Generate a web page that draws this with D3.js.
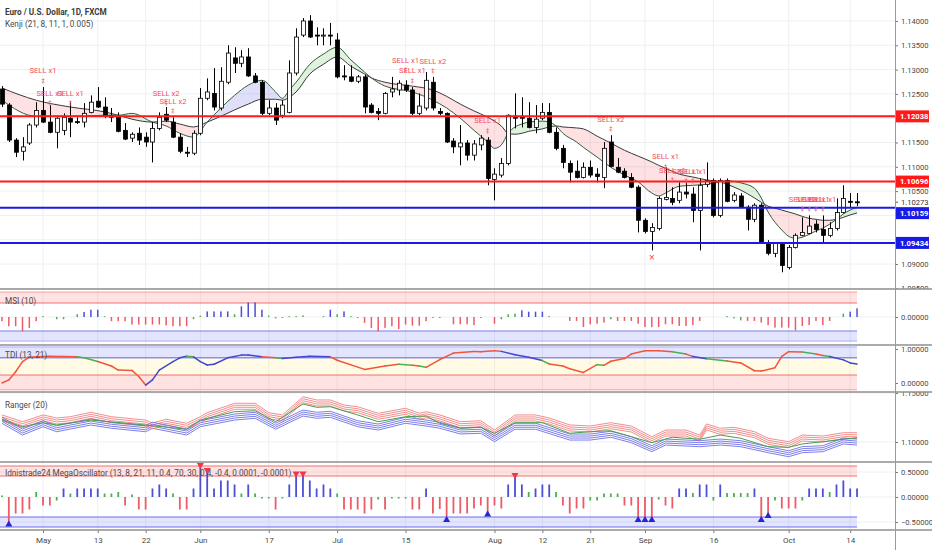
<!DOCTYPE html>
<html>
<head>
<meta charset="utf-8">
<script src="https://cdn.jsdelivr.net/npm/d3@7"></script>
<style>
body { margin: 0; background: #fff; }
svg { display: block; font-family: Roboto, "Liberation Sans", sans-serif; }
</style>
</head>
<body>
<div class="chart"></div>
<script>
// ---- EUR/USD daily candles (Apr 23 .. Oct 15) ----
var opens = [1.1260,1.1227,1.1155,1.1132,1.1149,1.1186,1.1216,1.1192,1.1171,1.1175,
	1.1200,1.1193,1.1192,1.1212,1.1235,1.1223,1.1206,1.1202,1.1175,1.1159,
	1.1169,1.1161,1.1151,1.1179,1.1208,1.1192,1.1161,1.1130,1.1128,1.1169,
	1.1241,1.1251,1.1221,1.1274,1.1324,1.1313,1.1326,1.1287,1.1274,1.1210,
	1.1221,1.1206,1.1212,1.1293,1.1371,1.1400,1.1371,1.1369,1.1371,1.1361,
	1.1287,1.1285,1.1276,1.1285,1.1227,1.1214,1.1210,1.1254,1.1258,1.1268,
	1.1258,1.1210,1.1221,1.1274,1.1214,1.1210,1.1153,1.1141,1.1149,1.1124,
	1.1145,1.1155,1.1074,1.1083,1.1107,1.1204,1.1202,1.1200,1.1181,1.1200,
	1.1212,1.1171,1.1138,1.1107,1.1091,1.1078,1.1099,1.1085,1.1078,1.1151,
	1.1099,1.1091,1.1078,1.1058,1.0990,1.0967,1.0973,1.1033,1.1035,1.1031,
	1.1048,1.1044,1.1010,1.1064,1.1072,1.1000,1.1072,1.1031,1.1040,1.1017,
	1.0992,1.1021,1.0943,1.0922,1.0943,1.0893,1.0934,1.0959,1.0963,1.0982,
	1.0971,1.0959,1.0973,1.1006,1.1029,1.1028];
var highs = [1.1266,1.1231,1.1159,1.1161,1.1190,1.1233,1.1264,1.1227,1.1202,1.1210,
	1.1233,1.1202,1.1231,1.1247,1.1264,1.1243,1.1221,1.1212,1.1190,1.1171,
	1.1181,1.1171,1.1192,1.1212,1.1223,1.1202,1.1169,1.1141,1.1175,1.1262,
	1.1282,1.1303,1.1305,1.1350,1.1346,1.1340,1.1344,1.1293,1.1278,1.1237,
	1.1231,1.1237,1.1319,1.1385,1.1406,1.1412,1.1387,1.1385,1.1396,1.1375,
	1.1309,1.1309,1.1289,1.1289,1.1231,1.1221,1.1254,1.1285,1.1278,1.1278,
	1.1264,1.1251,1.1295,1.1285,1.1221,1.1212,1.1159,1.1186,1.1155,1.1155,
	1.1165,1.1161,1.1097,1.1118,1.1208,1.1251,1.1243,1.1233,1.1227,1.1231,
	1.1231,1.1181,1.1145,1.1113,1.1113,1.1109,1.1113,1.1097,1.1151,1.1165,
	1.1118,1.1097,1.1087,1.1062,1.0994,1.0984,1.1039,1.1099,1.1058,1.1068,
	1.1068,1.1058,1.1076,1.1109,1.1076,1.1076,1.1076,1.1048,1.1046,1.1021,
	1.1025,1.1025,1.0949,1.0945,1.0945,1.0939,1.0963,1.0996,1.1000,1.0990,
	1.1000,1.0986,1.1035,1.1062,1.1046,1.1046];
var lows = [1.1223,1.1151,1.1120,1.1113,1.1145,1.1181,1.1190,1.1169,1.1138,1.1165,
	1.1161,1.1188,1.1181,1.1210,1.1221,1.1200,1.1192,1.1171,1.1155,1.1151,
	1.1145,1.1141,1.1109,1.1175,1.1192,1.1159,1.1128,1.1120,1.1124,1.1165,
	1.1237,1.1216,1.1216,1.1270,1.1293,1.1305,1.1285,1.1272,1.1206,1.1206,
	1.1186,1.1200,1.1210,1.1288,1.1367,1.1365,1.1350,1.1350,1.1350,1.1282,
	1.1278,1.1274,1.1272,1.1210,1.1210,1.1196,1.1208,1.1243,1.1247,1.1254,
	1.1206,1.1206,1.1216,1.1216,1.1206,1.1149,1.1128,1.1103,1.1113,1.1113,
	1.1134,1.1062,1.1031,1.1078,1.1103,1.1179,1.1181,1.1179,1.1169,1.1196,
	1.1169,1.1134,1.1097,1.1068,1.1076,1.1076,1.1078,1.1068,1.1056,1.1099,
	1.1087,1.1076,1.1056,1.0965,1.0963,1.0928,1.0969,1.1031,1.1021,1.1025,
	1.1035,1.0986,1.0928,1.1058,1.0996,1.0996,1.1027,1.1027,1.1015,1.0969,
	1.0986,1.0943,1.0918,1.0914,1.0883,1.0889,1.0932,1.0957,1.0961,1.0965,
	1.0945,1.0955,1.0969,1.1004,1.1017,1.1019];
var closes = [1.1229,1.1155,1.1130,1.1141,1.1186,1.1216,1.1192,1.1171,1.1200,1.1202,
	1.1192,1.1192,1.1210,1.1233,1.1223,1.1204,1.1202,1.1173,1.1157,1.1167,
	1.1155,1.1151,1.1179,1.1202,1.1196,1.1161,1.1132,1.1128,1.1169,1.1241,
	1.1254,1.1223,1.1276,1.1334,1.1313,1.1326,1.1287,1.1274,1.1210,1.1221,
	1.1196,1.1227,1.1293,1.1367,1.1400,1.1367,1.1369,1.1371,1.1369,1.1285,
	1.1285,1.1276,1.1285,1.1223,1.1212,1.1210,1.1251,1.1260,1.1272,1.1258,
	1.1210,1.1225,1.1278,1.1221,1.1210,1.1151,1.1141,1.1149,1.1124,1.1147,
	1.1159,1.1076,1.1085,1.1107,1.1206,1.1200,1.1201,1.1181,1.1198,1.1212,
	1.1171,1.1138,1.1109,1.1089,1.1078,1.1099,1.1083,1.1080,1.1138,1.1101,
	1.1089,1.1078,1.1058,1.0990,1.0967,1.0975,1.1035,1.1037,1.1027,1.1048,
	1.1044,1.1010,1.1062,1.1072,1.1000,1.1072,1.1029,1.1042,1.1017,1.0992,
	1.1021,1.0945,1.0922,1.0943,1.0897,1.0934,1.0959,1.0965,1.0978,1.0971,
	1.0959,1.0973,1.1006,1.1035,1.1027,1.10273];

// x axis labels (bar index -> text)
var xTickIdx = [6,14,21,29,39,49,59,72,79,86,94,104,115,124];
var xTickText = ['May','13','22','Jun','17','Jul','15','Aug','12','21','Sep','16','Oct','14'];

// Kenji cloud, read at these bars
var kenjiIdx = [0,5,10,15,17,19,22,24,26,28,30,32,34,36,38,40,41,42,43,45,47,49,51,53,54,56,60,63,65,67,
	69,71,72,73,74,75,76,77,79,80,81,82,84,85,87,89,91,93,95,96,97,99,101,103,105,106,108,110,111,112,
	113,114,115,116,117,118,119,120,121,122,123,124,125];
var kenjiFast = [1.1237,1.1204,1.1204,1.1206,1.1206,1.1210,1.1192,1.1184,1.1169,1.1161,
	1.1192,1.1221,1.1247,1.1268,1.1278,1.1254,1.1241,1.1258,1.1274,1.1311,
	1.1332,1.1346,1.1320,1.1295,1.1283,1.1266,1.1254,1.1237,1.1221,1.1200,
	1.1175,1.1151,1.1138,1.1145,1.1169,1.1182,1.1188,1.1192,1.1194,1.1192,
	1.1184,1.1169,1.1151,1.1140,1.1120,1.1099,1.1083,1.1069,1.1046,1.1040,
	1.1046,1.1060,1.1062,1.1064,1.1069,1.1071,1.1067,1.1056,1.1036,1.1007,
	1.0986,1.0970,1.0957,1.0953,1.0955,1.0961,1.0968,1.0974,1.0982,1.0992,
	1.1003,1.1011,1.1017];
var kenjiSlow = [1.1262,1.1237,1.1223,1.1213,1.1206,1.1198,1.1192,1.1194,1.1188,1.1182,
	1.1192,1.1204,1.1217,1.1229,1.1239,1.1239,1.1237,1.1243,1.1254,1.1291,
	1.1311,1.1326,1.1307,1.1291,1.1283,1.1274,1.1266,1.1258,1.1245,1.1229,
	1.1215,1.1202,1.1194,1.1184,1.1169,1.1167,1.1169,1.1173,1.1178,1.1182,
	1.1184,1.1182,1.1180,1.1178,1.1163,1.1149,1.1134,1.1122,1.1110,1.1103,
	1.1097,1.1085,1.1079,1.1073,1.1069,1.1064,1.1052,1.1036,1.1027,1.1019,
	1.1015,1.1011,1.1007,1.1003,1.0998,1.0994,1.0992,1.0990,1.0990,1.0992,
	1.0996,1.1001,1.1005];
var kenjiZoneFrom = [0, 17, 22, 30, 41.5, 54, 74, 81, 105, 111.5, 122];
var kenjiZoneTo   = [17, 22, 30, 41.5, 54, 74, 81, 105, 111.5, 122, 125];
var kenjiZoneKind = ['down','up','down','up2','up','down','up','down','up','down','up'];

// horizontal levels
var levelPrices = [1.12038, 1.10696, 1.10159, 1.09434];
var levelKind = ['res', 'res', 'sup', 'sup'];

// SELL signals
var sellIdx = [6,7,10,24,25,59,60,63,71,89,97,98,100,101,117,118,119,120];
var sellText = ['SELL x1','SELL x1','SELL x1','SELL x2','SELL x2','SELL x1','SELL x1','SELL x2','SELL x1',
	'SELL x2','SELL x1','SELL x1','SELL x1','SELL x1','SELL x1','SELL x1','SELL x1','SELL x1'];
var sellPrice = [1.1278,1.1231,1.1231,1.1231,1.1215,1.1299,1.1278,1.1297,1.1175,1.1178,
	1.1101,1.1073,1.1071,1.1071,1.1013,1.1013,1.1013,1.1013];
var exitIdx = [95];
var exitPrice = [1.0914];

// MSI (10)
var msi = [-0.15,-0.33,-0.33,-0.51,-0.39,-0.15,0.03,0,-0.08,-0.08,
	0,0.1,0.18,0.26,0.26,0.03,-0.15,-0.15,-0.15,-0.27,
	-0.27,-0.27,-0.27,-0.27,-0.3,-0.33,-0.33,-0.33,-0.08,0.05,
	0.2,0.2,0.2,0.2,0.1,0.38,0.52,0.52,0.26,0.05,
	-0.05,-0.03,0.03,0.03,0.06,0,0,0.03,0.26,0.1,
	0.2,0.03,-0.03,-0.21,-0.39,-0.51,-0.39,-0.33,-0.43,-0.27,
	-0.31,-0.31,-0.15,-0.03,-0.03,0,-0.26,-0.26,-0.26,-0.29,
	-0.03,0,-0.24,-0.08,0.1,0.12,0.24,0.19,0.19,0.19,
	0.03,0,0,-0.14,-0.14,-0.36,-0.26,-0.24,-0.2,-0.08,
	-0.14,-0.14,-0.14,-0.24,-0.36,-0.36,-0.36,-0.26,-0.26,-0.32,
	-0.32,-0.29,-0.14,0,0,0,0.03,-0.05,-0.12,-0.14,
	-0.14,-0.2,-0.29,-0.38,-0.38,-0.38,-0.48,-0.32,-0.29,-0.14,
	-0.29,-0.14,0,0.12,0.19,0.31];
var msiZones = [0.5, 0.89, -0.86, -0.5];

// TDI (13, 21)
var tdiIdx = [0,1,2,3,4,5,7,9,11,12,14,16,17,19,20,21,22,23,25,26,
	27,28,29,30,31,33,35,36,38,40,41,43,45,48,49,53,56,58,60,61,
	62,64,66,69,70,72,73,75,77,79,80,82,83,85,87,88,89,91,92,94,
	96,98,100,101,103,106,108,110,111,113,114,115,117,119,120,121,123,124,125];
var tdiVal = [0.00,0.09,0.33,0.63,0.76,0.77,0.79,0.78,0.77,0.74,
	0.63,0.50,0.38,0.37,0.19,-0.06,0.09,0.38,0.63,0.74,
	0.79,0.77,0.63,0.53,0.55,0.74,0.82,0.82,0.77,0.74,
	0.72,0.76,0.79,0.77,0.67,0.40,0.50,0.55,0.52,0.50,
	0.46,0.69,0.88,0.93,0.92,0.95,0.93,0.83,0.76,0.66,
	0.56,0.50,0.42,0.31,0.54,0.52,0.64,0.72,0.85,0.95,
	0.95,0.92,0.85,0.78,0.71,0.65,0.59,0.36,0.35,0.45,
	0.78,0.92,0.91,0.85,0.81,0.78,0.68,0.59,0.56];
var tdiState = ('rrrrrrrrgg' + 'rrrrrbbbbb' + 'gbbbbbbbrg' + 'bbbrrrrgrg' + 'rrrrrrbbbg' +
	'rrrrgrrrrr' + 'rgrbgrrrrr' + 'rrgrgbbbb').split('');
var tdiZones = [0.74, 1.06, 0.235, 0.74, -0.2, 0.235];

// Ranger (20)
var rngUpIdx = [0,3,6,8,10,13,16,21,22,24,27,29,30,34,37,39,41,44,46,48,50,52,55,59,61,62,64,67,70,72,
	75,78,80,83,86,89,92,95,97,100,102,103,105,107,110,112,115,117,120,123,125];
var rngUp = [1.1276,1.1207,1.1276,1.1245,1.1258,1.1303,1.1258,1.1224,1.1194,1.1232,
	1.1191,1.1258,1.1299,1.1395,1.1395,1.1299,1.1276,1.1462,1.1429,1.1429,
	1.1378,1.1360,1.1293,1.1344,1.1293,1.1309,1.1276,1.1207,1.1217,1.1122,
	1.1276,1.1276,1.1245,1.1174,1.1163,1.1197,1.1163,1.1054,1.1122,1.1122,
	1.1071,1.1184,1.1140,1.1150,1.1105,1.1038,1.1003,1.1071,1.1061,1.1095,1.1095];
var rngMidIdx = [0,3,6,8,13,21,27,29,34,37,40,44,46,48,52,55,59,62,64,67,
	70,72,75,79,83,86,89,92,95,98,102,105,108,112,115,117,120,125];
var rngMid = [1.1224,1.1156,1.1197,1.1173,1.1224,1.1173,1.1130,1.1224,1.1309,1.1319,
	1.1207,1.1388,1.1354,1.1360,1.1276,1.1207,1.1258,1.1265,1.1191,1.1140,
	1.1150,1.1089,1.1197,1.1197,1.1089,1.1105,1.1115,1.1054,1.0993,1.1048,
	1.1028,1.1071,1.1038,1.0952,1.0946,1.0980,1.1003,1.1044];
var rngLowIdx = [0,3,6,8,13,16,21,22,27,29,34,37,40,44,46,48,52,55,59,62,
	64,67,70,72,75,78,83,86,89,92,95,97,100,102,105,108,112,115,117,120,123,125];
var rngLow = [1.1191,1.1071,1.1156,1.1105,1.1173,1.1140,1.1105,1.1140,1.1071,1.1156,
	1.1224,1.1242,1.1130,1.1265,1.1242,1.1252,1.1156,1.1122,1.1191,1.1163,
	1.1140,1.1082,1.1089,1.1003,1.1130,1.1130,1.1020,1.1020,1.1048,1.0993,
	1.0901,1.0969,1.0959,1.0952,1.0969,1.0952,1.0891,1.0850,1.0891,1.0901,1.0980,1.0969];

// MegaOscillator
var mega = [0.03,-0.57,-0.33,-0.33,-0.25,0.1,-0.17,-0.17,-0.07,0.17,
	0.07,0.17,0.17,0.17,0.17,0.07,0.07,0.1,-0.17,0.05,
	-0.25,-0.25,0.17,0.25,0.17,0.07,-0.25,-0.25,0.17,0.6,
	0.5,0.17,0.33,0.33,0.25,0.07,0.25,0.07,-0.03,-0.03,
	-0.25,-0.03,0.25,0.43,0.43,0.33,0.17,0.25,0.17,0.07,
	-0.25,-0.25,-0.25,-0.33,-0.25,-0.05,-0.25,-0.03,-0.03,-0.03,
	-0.25,-0.25,0.17,-0.33,-0.24,-0.48,-0.33,-0.33,-0.33,-0.23,
	-0.17,-0.37,-0.17,-0.23,0.25,0.4,0.25,0.1,0.17,0.25,
	0.25,0.1,-0.17,-0.33,-0.23,-0.23,-0.07,-0.07,0.07,0.07,
	0.07,-0.17,-0.17,-0.48,-0.48,-0.48,-0.05,-0.17,-0.23,0.17,
	0.17,0.08,0.25,0.25,-0.07,0.25,0.08,0.08,0.08,0.08,
	0.17,-0.48,-0.4,-0.07,-0.23,-0.23,-0.23,-0.07,0.17,0.17,
	0.17,0.1,0.25,0.33,0.17,0.17];
var megaSellIdx = [29,30,43,44,75];
var megaBuyIdx = [1,65,71,93,94,95,111,112];
var megaZones = [0.42, 0.62, -0.6, -0.4];

// ---- layout ----
var width = 932, height = 550, axisX = 895;
var paneMain = [0, 289], paneMsi = [289, 345], paneTdi = [345, 392], paneRng = [392, 462], paneMega = [462, 530];

var colRed = '#ff1a1a', colBlue = '#1a1ae6';
var barRed = '#ec5b66', barBlue = '#4b4fd6', barGreen = '#4caf50';
var gridCol = '#eef0f3', textCol = '#4a4a4a';
var fontTxt = 'Roboto, "Liberation Sans", sans-serif';

var svg = d3.select('.chart')
	.append('svg')
	.attr('width', width)
	.attr('height', height);
var defs = svg.append('defs');

function clipRect(id, x0, y0, w, h) {
	defs.append('clipPath').attr('id', id)
		.append('rect').attr('x', x0).attr('y', y0).attr('width', w).attr('height', h);
	return 'url(#' + id + ')';
}

var x = d3.scaleLinear().domain([-0.29, 130.55]).range([0, axisX]);
var lastX = x(opens.length - 1);

var yMain = d3.scaleLinear().domain([1.08486, 1.14432]).range([paneMain[1], paneMain[0]]);
var yMsi = d3.scaleLinear().domain([-1, 1]).range([paneMsi[1], paneMsi[0]]);
var yTdi = d3.scaleLinear().domain([-0.2647, 1.1176]).range([paneTdi[1], paneTdi[0]]);
var yRng = d3.scaleLinear().domain([1.07959, 1.15102]).range([paneRng[1], paneRng[0]]);
var yMega = d3.scaleLinear().domain([-0.66, 0.7]).range([paneMega[1], paneMega[0]]);

// vertical grid
svg.append('g').selectAll('line').data(xTickIdx).enter().append('line')
	.attr('x1', function(d){ return x(d); }).attr('x2', function(d){ return x(d); })
	.attr('y1', 0).attr('y2', paneMega[1])
	.attr('stroke', gridCol);

// horizontal grids per pane
function hGrid(scale, vals) {
	svg.append('g').selectAll('line').data(vals).enter().append('line')
		.attr('x1', 0).attr('x2', axisX)
		.attr('y1', function(d){ return scale(d); }).attr('y2', function(d){ return scale(d); })
		.attr('stroke', gridCol);
}
var mainTicks = d3.range(0, 12).map(function(k){ return +(1.085 + k * 0.005).toFixed(3); });
hGrid(yMain, mainTicks);
hGrid(yMsi, [0]);
hGrid(yRng, [1.10, 1.15]);
hGrid(yMega, [-0.5, 0, 0.5]);

// ---------- main pane ----------
var gMain = svg.append('g').attr('clip-path', clipRect('clipMain', 0, paneMain[0], axisX, paneMain[1] - paneMain[0]));

var kPts = kenjiIdx.map(function(d, k){ return { i: d, f: kenjiFast[k], s: kenjiSlow[k] }; });
var zoneFill = { down: 'rgba(242,80,90,0.17)', up: 'rgba(90,190,90,0.2)', up2: 'rgba(95,95,225,0.2)' };
var kArea = d3.area()
	.x(function(d){ return x(d.i); })
	.y0(function(d){ return yMain(d.f); })
	.y1(function(d){ return yMain(d.s); })
	.curve(d3.curveMonotoneX);
kenjiZoneFrom.forEach(function(z0, k){
	var cp = clipRect('kz' + k, x(z0), 0, x(kenjiZoneTo[k]) - x(z0), paneMain[1]);
	gMain.append('g').attr('clip-path', cp)
		.append('path')
		.attr('d', kArea(kPts))
		.attr('fill', zoneFill[kenjiZoneKind[k]]);
});
var kSlowLine = d3.line().x(function(d){ return x(d.i); }).y(function(d){ return yMain(d.s); }).curve(d3.curveMonotoneX);
var kFastLine = d3.line().x(function(d){ return x(d.i); }).y(function(d){ return yMain(d.f); }).curve(d3.curveMonotoneX);
gMain.append('path').attr('d', kSlowLine(kPts)).attr('fill', 'none').attr('stroke', '#3a3a3a').attr('stroke-width', 1);
gMain.append('path').attr('d', kFastLine(kPts)).attr('fill', 'none').attr('stroke', '#2f5e3a').attr('stroke-width', 1);

// candles
var candles = opens.map(function(o, i){ return { i: i, o: o, h: highs[i], l: lows[i], c: closes[i] }; });
gMain.append('g').selectAll('line').data(candles).enter().append('line')
	.attr('x1', function(d){ return Math.round(x(d.i)) + 0.5; })
	.attr('x2', function(d){ return Math.round(x(d.i)) + 0.5; })
	.attr('y1', function(d){ return yMain(d.h); })
	.attr('y2', function(d){ return yMain(d.l); })
	.attr('stroke', '#000').attr('stroke-width', 1);
gMain.append('g').selectAll('rect').data(candles).enter().append('rect')
	.attr('x', function(d){ return Math.round(x(d.i)) - 1.5; })
	.attr('width', 4)
	.attr('y', function(d){ return yMain(Math.max(d.o, d.c)); })
	.attr('height', function(d){ return Math.max(1, Math.abs(yMain(d.o) - yMain(d.c))); })
	.attr('fill', function(d){ return d.c >= d.o ? '#fff' : '#000'; })
	.attr('stroke', '#000').attr('stroke-width', 0.8);

// support / resistance lines
gMain.append('g').selectAll('line').data(levelPrices).enter().append('line')
	.attr('x1', 0).attr('x2', axisX)
	.attr('y1', function(d){ return yMain(d); }).attr('y2', function(d){ return yMain(d); })
	.attr('stroke', function(d, i){ return levelKind[i] == 'res' ? colRed : colBlue; })
	.attr('stroke-width', 2);

// sell labels
var sells = sellIdx.map(function(d, k){ return { i: d, t: sellText[k], p: sellPrice[k] }; });
var gSell = gMain.append('g').attr('font-family', fontTxt).attr('text-anchor', 'middle').attr('fill', '#f4505c');
gSell.selectAll('.lbl').data(sells).enter().append('text')
	.attr('x', function(d){ return x(d.i); })
	.attr('y', function(d){ return yMain(d.p) - 10; })
	.attr('dy', '0.35em')
	.attr('font-size', 7.6)
	.text(function(d){ return d.t; });
gSell.selectAll('.mk').data(sells).enter().append('text')
	.attr('x', function(d){ return x(d.i); })
	.attr('y', function(d){ return yMain(d.p); })
	.attr('dy', '0.35em')
	.attr('font-size', 6.5)
	.attr('font-family', 'DejaVu Sans')
	.text('\u2021');
gMain.append('g').selectAll('text').data(exitIdx).enter().append('text')
	.attr('x', function(d){ return x(d); })
	.attr('y', function(d, k){ return yMain(exitPrice[k]); })
	.attr('dy', '0.35em').attr('text-anchor', 'middle')
	.attr('font-size', 8).attr('font-family', 'DejaVu Sans').attr('fill', '#f23645')
	.text('\u00d7');

// ---------- band helper ----------
function bands(scale, zones, fills, lineCols, lineVals) {
	var g = svg.append('g');
	for (var k = 0; k < fills.length; k++) {
		var a = scale(zones[2 * k + 1]), b = scale(zones[2 * k]);
		g.append('rect').attr('x', 0).attr('width', lastX)
			.attr('y', a).attr('height', b - a).attr('fill', fills[k]);
	}
	lineVals.forEach(function(v, k){
		g.append('line').attr('x1', 0).attr('x2', lastX)
			.attr('y1', scale(v)).attr('y2', scale(v))
			.attr('stroke', lineCols[k]).attr('stroke-width', 1);
	});
}
var pinkFill = 'rgba(255,90,90,0.17)', blueFill = 'rgba(70,80,255,0.15)', yellowFill = 'rgba(255,236,120,0.2)';

// ---------- MSI ----------
bands(yMsi, msiZones, [pinkFill, blueFill], ['#f3a0a0', '#f07070', '#7a7ee8', '#a9acf0'], [0.89, 0.5, -0.5, -0.86]);
function barColor(v) { return v < -0.13 ? barRed : (v > 0.13 ? barBlue : barGreen); }
svg.append('g').selectAll('rect').data(msi).enter().append('rect')
	.attr('x', function(d, i){ return x(i) - 0.75; })
	.attr('width', 1.5)
	.attr('y', function(d){ return yMsi(Math.max(d, 0)); })
	.attr('height', function(d){ return d == 0 ? 0 : Math.max(1, Math.abs(yMsi(d) - yMsi(0))); })
	.attr('fill', function(d){ return barColor(d); });

// ---------- TDI ----------
bands(yTdi, tdiZones, [blueFill, yellowFill, pinkFill], ['#a9acf0', '#5b5fe0', '#f07070', '#f3a0a0'], [1.06, 0.74, 0.235, -0.2]);
var tdiCol = { r: '#f2553c', g: '#4caf50', b: '#3f48cc' };
var gTdi = svg.append('g');
for (var k = 0; k < tdiIdx.length - 1; k++) {
	gTdi.append('line')
		.attr('x1', x(tdiIdx[k])).attr('y1', yTdi(tdiVal[k]))
		.attr('x2', x(tdiIdx[k + 1])).attr('y2', yTdi(tdiVal[k + 1]))
		.attr('stroke', tdiCol[tdiState[k]]).attr('stroke-width', 1.5).attr('stroke-linecap', 'round');
}

// ---------- Ranger ----------
var gRng = svg.append('g').attr('clip-path', clipRect('clipRng', 0, paneRng[0], axisX, paneRng[1] - paneRng[0]));
function rngLine(idx, vals, off) {
	return d3.line()
		.x(function(d){ return x(d); })
		.y(function(d, k){ return yRng(vals[k]) + off; })(idx);
}
[0, 2, 4, 6].forEach(function(off){
	gRng.append('path').attr('d', rngLine(rngUpIdx, rngUp, off))
		.attr('fill', 'none').attr('stroke', '#f08080').attr('stroke-width', 0.9);
	gRng.append('path').attr('d', rngLine(rngLowIdx, rngLow, -off))
		.attr('fill', 'none').attr('stroke', '#6d6fe6').attr('stroke-width', 0.9);
});
gRng.append('path').attr('d', rngLine(rngMidIdx, rngMid, 0))
	.attr('fill', 'none').attr('stroke', '#43a047').attr('stroke-width', 1);

// ---------- MegaOscillator ----------
bands(yMega, megaZones, [pinkFill, blueFill], ['#f07070', '#f07070', '#6d6fe6', '#6d6fe6'], [0.62, 0.42, -0.4, -0.6]);
svg.append('g').selectAll('rect').data(mega).enter().append('rect')
	.attr('x', function(d, i){ return x(i) - 0.9; })
	.attr('width', 1.8)
	.attr('y', function(d){ return yMega(Math.max(d, 0)); })
	.attr('height', function(d){ return d == 0 ? 0 : Math.max(1, Math.abs(yMega(d) - yMega(0))); })
	.attr('fill', function(d){ return barColor(d); });
var tri = d3.symbol().type(d3.symbolTriangle).size(22);
svg.append('g').selectAll('path').data(megaSellIdx).enter().append('path')
	.attr('d', tri)
	.attr('transform', function(d){ return 'translate(' + x(d) + ',' + (yMega(mega[d]) - 2) + ') rotate(180)'; })
	.attr('fill', '#f23645');
svg.append('g').selectAll('path').data(megaBuyIdx).enter().append('path')
	.attr('d', tri)
	.attr('transform', function(d){ return 'translate(' + x(d) + ',' + (yMega(mega[d]) - 1) + ')'; })
	.attr('fill', '#2626d9');

// ---------- price tags (last price + level boxes, pushed apart) ----------
var lastClose = closes[closes.length - 1];
var tags = levelPrices.map(function(p, k){ return { p: p, kind: levelKind[k], y: yMain(p) }; });
tags.push({ p: lastClose, kind: 'last', y: yMain(lastClose) });
tags.sort(function(a, b){ return a.y - b.y; });
for (var t = 1; t < tags.length; t++) {
	if (tags[t].y < tags[t - 1].y + 11) tags[t].y = tags[t - 1].y + 11;
}

// ---------- right axes ----------
function priceAxis(id, pane, scale, vals) {
	var outer = svg.append('g').attr('clip-path', clipRect(id, axisX, pane[0], width - axisX, pane[1] - pane[0]));
	var ax = outer.append('g').attr('transform', 'translate(' + axisX + ',0)')
		.call(d3.axisRight(scale).tickValues(vals).tickFormat(d3.format('.5f')).tickSize(3).tickPadding(3));
	ax.select('.domain').remove();
	ax.selectAll('line').attr('stroke', '#777');
	ax.selectAll('text').attr('font-size', 7.6).attr('font-family', fontTxt).attr('fill', textCol);
	return outer;
}
// main ticks hidden where a tag sits on top of them
var freeTicks = mainTicks.filter(function(v){
	return tags.every(function(tg){ return Math.abs(yMain(v) - tg.y) > 8; });
});
priceAxis('axMain', paneMain, yMain, freeTicks);
priceAxis('axMsi', paneMsi, yMsi, [0]);
priceAxis('axTdi', paneTdi, yTdi, [0, 1]);
priceAxis('axRng', paneRng, yRng, [1.10, 1.15]);
priceAxis('axMega', paneMega, yMega, [-0.5, 0, 0.5]);

var gTags = svg.append('g').attr('font-family', fontTxt).attr('font-size', 7.6);
tags.forEach(function(d){
	if (d.kind == 'last') {
		gTags.append('line').attr('x1', axisX).attr('x2', axisX + 3).attr('y1', d.y).attr('y2', d.y).attr('stroke', '#555');
		gTags.append('text').attr('x', axisX + 6).attr('y', d.y).attr('dy', '0.35em').attr('fill', '#333').text(d3.format('.5f')(d.p));
	} else {
		var c = d.kind == 'res' ? colRed : colBlue;
		gTags.append('rect').attr('x', axisX).attr('y', d.y - 6).attr('width', 34).attr('height', 12).attr('fill', c);
		gTags.append('text').attr('x', axisX + 5).attr('y', d.y).attr('dy', '0.35em').attr('fill', '#fff')
			.attr('font-weight', 'bold').text(d3.format('.5f')(d.p));
	}
});

// ---------- x axis ----------
var xa = svg.append('g').attr('transform', 'translate(0,' + paneMega[1] + ')')
	.call(d3.axisBottom(x).tickValues(xTickIdx).tickFormat(function(d, i){ return xTickText[i]; }).tickSize(3).tickPadding(4));
xa.select('.domain').remove();
xa.selectAll('line').attr('stroke', '#777');
xa.selectAll('text').attr('font-size', 8).attr('font-family', fontTxt).attr('fill', textCol);

// separators and axis border
svg.append('g').selectAll('line').data([paneMain[1], paneMsi[1], paneTdi[1], paneRng[1], paneMega[1]]).enter().append('line')
	.attr('x1', 0).attr('x2', width)
	.attr('y1', function(d){ return d; }).attr('y2', function(d){ return d; })
	.attr('stroke', '#8f8f8f').attr('stroke-width', 1.6);
svg.append('line').attr('x1', axisX + 0.5).attr('x2', axisX + 0.5).attr('y1', 0).attr('y2', height)
	.attr('stroke', '#9a9a9a').attr('stroke-width', 1);

// titles
var gTitle = svg.append('g').attr('font-family', fontTxt).attr('fill', textCol).attr('font-size', 8.2);
gTitle.append('text').attr('x', 5).attr('y', 12).attr('dy', '0.35em').attr('font-weight', 'bold').attr('fill', '#3c3c3c')
	.text('Euro / U.S. Dollar, 1D, FXCM');
gTitle.append('text').attr('x', 5).attr('y', 24).attr('dy', '0.35em').text('Kenji (21, 8, 11, 1, 0.005)');
gTitle.append('text').attr('x', 5).attr('y', 301).attr('dy', '0.35em').text('MSI (10)');
gTitle.append('text').attr('x', 5).attr('y', 355).attr('dy', '0.35em').text('TDI (13, 21)');
gTitle.append('text').attr('x', 5).attr('y', 405).attr('dy', '0.35em').text('Ranger (20)');
gTitle.append('text').attr('x', 5).attr('y', 473).attr('dy', '0.35em')
	.text('Idnistrade24 MegaOscillator (13, 8, 21, 11, 0.4, 70, 30, 0.4, -0.4, 0.0001, -0.0001)');
</script>
</body>
</html>
